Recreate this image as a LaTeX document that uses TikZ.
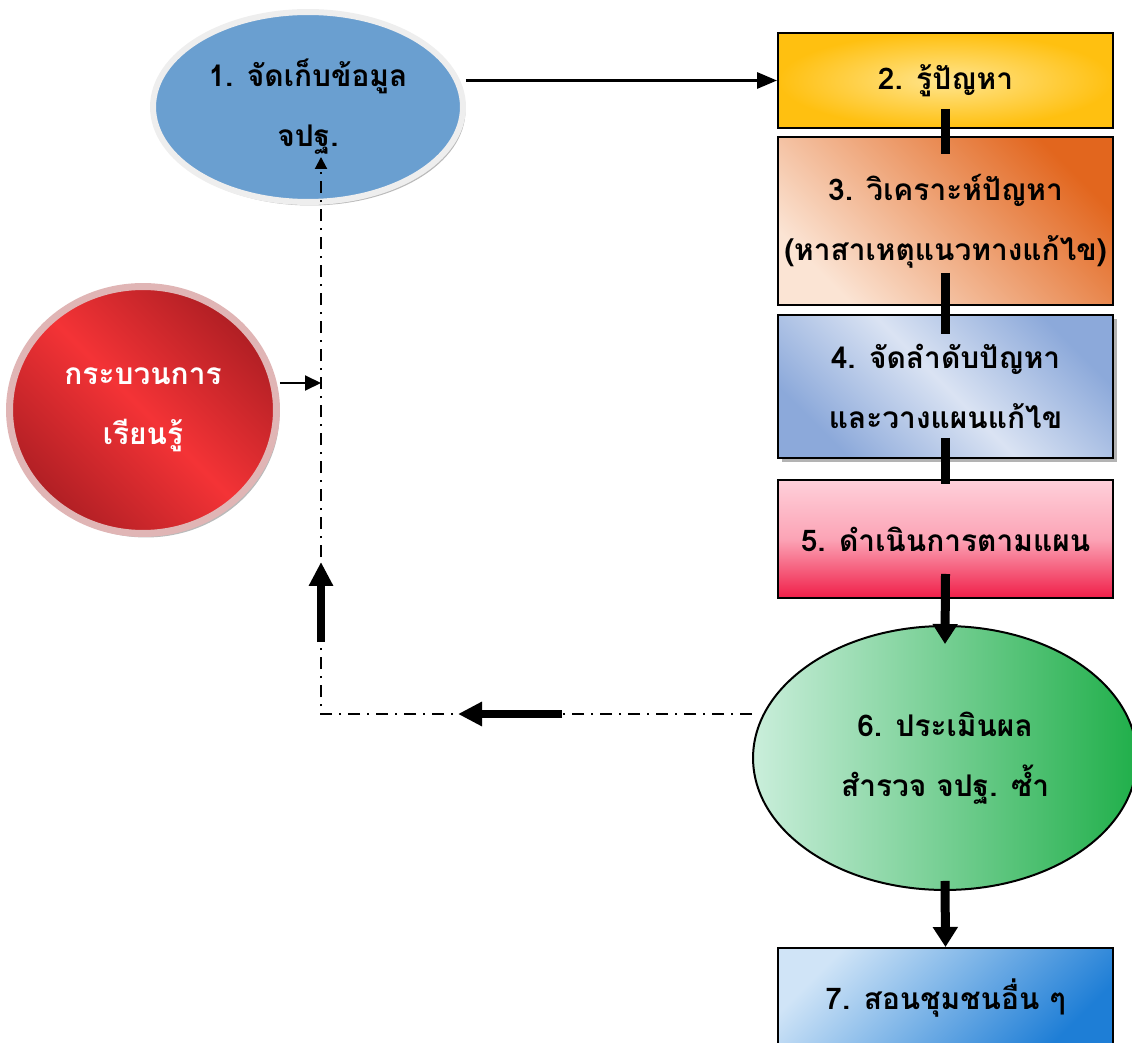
\documentclass[tikz,border=0pt]{standalone}
\usepackage{fontspec}
\newfontfamily\thaifont[Script=Thai]{Loma}
\usetikzlibrary{arrows.meta,shapes.geometric,shadows,calc}
\usetikzlibrary{positioning}

\definecolor{collectblue}{HTML}{6A9FD0}
\definecolor{ringgrey}{HTML}{EEEEEE}
\definecolor{knowin}{HTML}{FFE58F}
\definecolor{knowout}{HTML}{FFC010}
\definecolor{analysedark}{HTML}{E2661E}
\definecolor{analyselight}{HTML}{FBE4D4}
\definecolor{planlight}{HTML}{DAE3F3}
\definecolor{plandark}{HTML}{8CA9DA}
\definecolor{acttop}{HTML}{FFD0DA}
\definecolor{actbottom}{HTML}{F01E48}
\definecolor{assesslight}{HTML}{CAEEDB}
\definecolor{assessdark}{HTML}{20AF4A}
\definecolor{teachlight}{HTML}{D0E4F7}
\definecolor{teachdark}{HTML}{1E7ED6}
\definecolor{learndark}{HTML}{B01F24}
\definecolor{learnbright}{HTML}{F43336}
\definecolor{learnring}{HTML}{E0B5B5}

\begin{document}
\begin{tikzpicture}[x=0.02cm,y=-0.02cm,
        stepfont/.style={font=\thaifont\bfseries\fontsize{17}{34}\selectfont,align=center},
        stepbox/.style={rectangle,draw=black,line width=0.04cm,minimum width=6.7cm,stepfont},
        link/.style={line width=0.18cm},
        fatlink/.style={line width=0.18cm,-{Triangle[length=0.4cm,width=0.48cm]}},
        thinlink/.style={line width=0.06cm,-{Triangle[length=0.4cm,width=0.32cm]}},
        backlink/.style={line width=0.04cm,dash pattern=on 0.24cm off 0.14cm on 0.04cm off 0.14cm},
        fatback/.style={line width=0.15cm,-{Triangle[length=0.48cm,width=0.46cm]}}]

        \useasboundingbox (0,0) rectangle (1132,1043);

        % the steps
        \node[ellipse,stepfont,minimum width=6.2cm,minimum height=3.8cm,
            fill=collectblue,draw=ringgrey,line width=0.12cm,
            drop shadow={shadow xshift=0.05cm,shadow yshift=-0.07cm,fill=black!45,opacity=0.6}]
            (collect) at (308,107) {1. จัดเก็บข้อมูล\\จปฐ.};
        \node[stepbox,minimum height=1.9cm,inner color=knowin,outer color=knowout]
            (know) at (945.5,80.5) {2. รู้ปัญหา};
        \node[stepbox,minimum height=3.36cm,top color=analysedark,bottom color=analyselight,shading angle=-45]
            (analyse) at (945.5,221) {3. วิเคราะห์ปัญหา\\(หาสาเหตุแนวทางแก้ไข)};
        \node[stepbox,minimum height=2.86cm,top color=plandark,bottom color=plandark,middle color=planlight,shading angle=-45,
            drop shadow={shadow xshift=0.08cm,shadow yshift=-0.08cm,fill=black!50,opacity=0.6}]
            (plan) at (945.5,386.5) {4. จัดลำดับปัญหา\\และวางแผนแก้ไข};
        \node[stepbox,minimum height=2.36cm,top color=acttop,bottom color=actbottom,middle color=acttop!75!actbottom]
            (act) at (945.5,539) {5. ดำเนินการตามแผน};
        \node[ellipse,stepfont,minimum width=7.68cm,minimum height=5.28cm,draw=black,line width=0.04cm,
            left color=assesslight,right color=assessdark]
            (assess) at (945,758) {6. ประเมินผล\\สำรวจ จปฐ. ซ้ำ};
        \node[stepbox,minimum height=2cm,top color=teachlight,bottom color=teachdark,shading angle=45]
            (teach) at (945.5,998) {7. สอนชุมชนอื่น ๆ};
        \node[ellipse,stepfont,text=white,minimum width=5.34cm,minimum height=4.94cm,
            draw=learnring,line width=0.14cm,
            top color=learndark,bottom color=learndark,middle color=learnbright,shading angle=-45,
            drop shadow={shadow xshift=0.06cm,shadow yshift=-0.08cm,fill=black!45,opacity=0.6}]
            (learn) at (143,410) {กระบวนการ\\เรียนรู้};

        \coordinate (fb) at (321,714);
        \coordinate (fbin) at (321,383);

        % main flow
        \draw[thinlink] (collect.east |- know.west) -- (know.west);
        \draw[link] ([yshift=0.4cm]know.south) -- ([yshift=-0.36cm]analyse.north);
        \draw[link] ([yshift=0.66cm]analyse.south) -- ([yshift=-0.4cm]plan.north);
        \draw[link] ([yshift=0.42cm]plan.south) -- ([yshift=-0.1cm]act.north);
        \draw[fatlink] ([yshift=0.5cm]act.south) -- ([yshift=-0.38cm]assess.north);
        \draw[fatlink] ([yshift=0.2cm]assess.south) -- (teach.north);

        % feedback loop
        \draw[backlink,-{Triangle[length=0.24cm,width=0.24cm]}]
            (assess.west |- fb) -- (fb) -- ($(fb |- collect.south)+(0,-48)$);
        \draw[line width=0.04cm,-{Triangle[length=0.32cm,width=0.3cm]}] (learn.east |- fbin) -- (fbin);
        \draw[fatback] ($(fb)+(241,0)$) -- ($(fb)+(137,0)$);
        \draw[fatback] ($(fb)+(0,-72)$) -- ($(fb)+(0,-152)$);
\end{tikzpicture}
\end{document}
